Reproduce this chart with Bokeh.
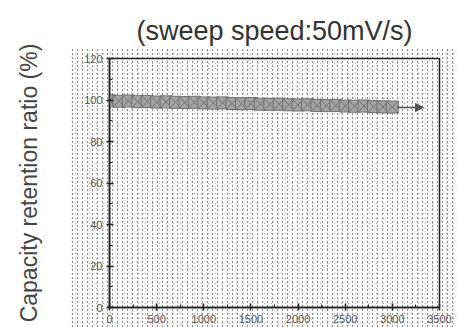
from bokeh.plotting import figure
from bokeh.models import Arrow, NormalHead, FixedTicker, Range1d, ColumnDataSource
from bokeh.embed import file_html
from bokeh.resources import INLINE

# ---- data ----
cycles = [0, 100, 200, 300, 400, 500, 600, 700, 800, 900, 1000, 1100, 1200, 1300,
          1400, 1500, 1600, 1700, 1800, 1900, 2000, 2100, 2200, 2300, 2400, 2500,
          2600, 2700, 2800, 2900, 3000]
retention = [99.6, 99.4, 99.5, 99.2, 99.3, 99.0, 99.1, 98.9, 98.8, 98.9, 98.6,
             98.5, 98.6, 98.3, 98.2, 98.3, 98.0, 97.9, 98.0, 97.7, 97.6, 97.7,
             97.4, 97.3, 97.4, 97.1, 97.0, 97.1, 96.8, 96.7, 96.6]
arrow_x = [3050, 3330]
arrow_y = [96.4, 96.4]
x_ticks = [0, 500, 1000, 1500, 2000, 2500, 3000, 3500]
x_minor = [250, 750, 1250, 1750, 2250, 2750, 3250]
y_ticks = [0, 20, 40, 60, 80, 100, 120]
y_minor = [10, 30, 50, 70, 90, 110]
title_text = "(sweep speed:50mV/s)"
y_label = "Capacity retention ratio (%)"

FONT = "Liberation Sans"

p = figure(width=457, height=327, output_backend="svg", toolbar_location=None,
           x_range=Range1d(0, 3500), y_range=Range1d(0, 120),
           min_border_left=109, min_border_right=18, min_border_top=57,
           min_border_bottom=20, title=title_text)

# transparent canvas so the stippled "scan" background (CSS) shows through
p.background_fill_color = None
p.border_fill_color = None
p.styles = {
    "background-color": "#ffffff",
    "background-image": (
        "linear-gradient(#ffffff, #ffffff), "
        "linear-gradient(#ffffff, #ffffff), "
        "radial-gradient(circle, #8e8e8e 0.7px, rgba(255,255,255,0) 1.05px), "
        "radial-gradient(circle, #a8a8a8 0.6px, rgba(255,255,255,0) 0.95px), "
        "repeating-linear-gradient(150deg, rgba(0,0,0,0.06) 0px, rgba(0,0,0,0.06) 1px, "
        "rgba(0,0,0,0) 1px, rgba(0,0,0,0) 4px)"
    ),
    "background-size": "100% 49px, 70px 100%, 5px 4px, 7px 5px, auto",
    "background-position": "0 0, 0 0, 0 0, 2px 1px, 0 0",
    "background-repeat": "no-repeat, no-repeat, repeat, repeat, repeat",
}
p.outline_line_color = "#222222"
p.outline_line_width = 1.5
p.grid.visible = False

# title
p.title.text_font = FONT
p.title.text_font_size = "27px"
p.title.text_font_style = "normal"
p.title.text_color = "#333333"
p.title.align = "center"
p.title.standoff = 26

# axes
for ax in (p.xaxis[0], p.yaxis[0]):
    ax.axis_line_color = "#222222"
    ax.axis_line_width = 1.5
    ax.major_tick_line_color = "#222222"
    ax.major_tick_line_width = 1.5
    ax.major_tick_in = 4
    ax.major_tick_out = 3
    ax.minor_tick_line_color = "#222222"
    ax.minor_tick_in = 3
    ax.minor_tick_out = 0
    ax.major_label_text_font = FONT
    ax.major_label_text_font_size = "11px"
    ax.major_label_text_color = "#555555"
    ax.major_label_standoff = 4

p.xaxis[0].ticker = FixedTicker(ticks=x_ticks, minor_ticks=x_minor)
p.yaxis[0].ticker = FixedTicker(ticks=y_ticks, minor_ticks=y_minor)

p.yaxis[0].axis_label = y_label
p.yaxis[0].axis_label_text_font = FONT
p.yaxis[0].axis_label_text_font_size = "23px"
p.yaxis[0].axis_label_text_font_style = "normal"
p.yaxis[0].axis_label_text_color = "#444444"
p.yaxis[0].axis_label_standoff = 39

# data band
src = ColumnDataSource(dict(x=cycles, y=retention))
p.scatter("x", "y", source=src, marker="square_x", size=12,
          fill_color="#a4a4a4", line_color="#707070", line_width=1)

# arrow continuing the trend
p.add_layout(Arrow(x_start=arrow_x[0], y_start=arrow_y[0],
                   x_end=arrow_x[1], y_end=arrow_y[1],
                   line_color="#555555", line_width=1.5,
                   end=NormalHead(size=8, fill_color="#555555", line_color="#555555")))

open("out.html", "w").write(file_html(p, INLINE))
